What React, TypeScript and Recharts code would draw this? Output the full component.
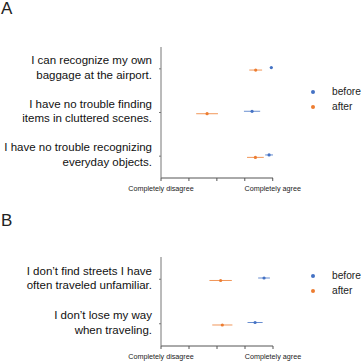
import { ScatterChart, Scatter, XAxis, YAxis, ErrorBar, Legend } from 'recharts';

// Likert scale: 1 = completely disagree ... 5 = completely agree
const xTicks = [1, 2, 3, 4, 5];
const xTickLabels: Record<number, string> = { 1: 'Completely disagree', 5: 'Completely agree' };

// Panel A - object recognition
const questionsA = [
  ['I can recognize my own', 'baggage at the airport.'],
  ['I have no trouble finding', 'items in cluttered scenes.'],
  ['I have no trouble recognizing', 'everyday objects.'],
];
const beforeA = [4.95, 4.26, 4.87];
const beforeErrA = [0.05, 0.29, 0.14];
const afterA = [4.39, 2.65, 4.38];
const afterErrA = [0.23, 0.39, 0.3];

// Panel B - navigation
const questionsB = [
  ['I don\u2019t find streets I have', 'often traveled unfamiliar.'],
  ['I don\u2019t lose my way', 'when traveling.'],
];
const beforeB = [4.68, 4.36];
const beforeErrB = [0.21, 0.27];
const afterB = [3.13, 3.19];
const afterErrB = [0.4, 0.36];

const BLUE = '#4472c4';
const ORANGE = '#ed7d31';
const FONT = '"Liberation Sans", Arial, Helvetica, sans-serif';
const DODGE = 0.028;

const build = (vals: number[], errs: number[], shift: number) =>
  vals.map((v, i) => ({ x: v, y: i + shift, err: errs[i] }));

function QuestionTick(props: any) {
  const { x, y, payload, lines } = props;
  const txt: string[] = lines[payload.value] || [];
  const lh = 14.5;
  const y0 = y - ((txt.length - 1) * lh) / 2 - 1.5;
  return (
    <text x={x} y={y0} textAnchor="end" fontSize={11.5} fill="#111" fontFamily={FONT}>
      {txt.map((t, i) => (
        <tspan key={i} x={x} y={y0 + i * lh} dy="0.35em">{t}</tspan>
      ))}
    </text>
  );
}

function ScaleTick(props: any) {
  const { x, y, payload } = props;
  const label = xTickLabels[payload.value];
  if (!label) return null;
  return (
    <text x={x} y={y} dy="0.71em" textAnchor="middle" fontSize={7.2} fill="#222" fontFamily={FONT}>
      {label}
    </text>
  );
}

function LegendBox() {
  const items = [
    { name: 'before', color: BLUE },
    { name: 'after', color: ORANGE },
  ];
  return (
    <div style={{ fontFamily: FONT, fontSize: 10.2, color: '#222' }}>
      {items.map((it) => (
        <div key={it.name} style={{ display: 'flex', alignItems: 'center', height: 15 }}>
          <span style={{ width: 4, height: 4, borderRadius: 2, background: it.color, marginLeft: 3, marginRight: 17 }} />
          <span>{it.name}</span>
        </div>
      ))}
    </div>
  );
}

const dot = (color: string) => (p: any) => <circle cx={p.cx} cy={p.cy} r={1.6} fill={color} />;

function Panel({ questions, before, beforeErr, after, afterErr, height, top, bottom, legendTop }: any) {
  const n = questions.length;
  const bData = build(before, beforeErr, -DODGE);
  const aData = build(after, afterErr, DODGE);
  return (
    <ScatterChart width={362} height={height} margin={{ top, right: 89, bottom, left: 0 }}>
      <XAxis
        type="number"
        dataKey="x"
        domain={[1, 5]}
        ticks={xTicks}
        interval={0}
        tick={<ScaleTick />}
        tickSize={3}
        tickMargin={5}
        stroke="#555"
        height={12}
      />
      <YAxis
        type="number"
        dataKey="y"
        domain={[-0.5, n - 0.5]}
        ticks={questions.map((_: any, i: number) => i)}
        reversed
        width={161}
        tickSize={2}
        tickMargin={7}
        stroke="#777"
        tick={<QuestionTick lines={questions} />}
      />
      <Legend
        verticalAlign="top"
        content={() => <LegendBox />}
        wrapperStyle={{ left: 308, top: legendTop, width: 54 }}
      />
      <Scatter name="before" data={bData} fill={BLUE} shape={dot(BLUE)} isAnimationActive={false}>
        <ErrorBar dataKey="err" direction="x" width={0} stroke={BLUE} strokeOpacity={0.8} strokeWidth={1} />
      </Scatter>
      <Scatter name="after" data={aData} fill={ORANGE} shape={dot(ORANGE)} isAnimationActive={false}>
        <ErrorBar dataKey="err" direction="x" width={0} stroke={ORANGE} strokeOpacity={0.8} strokeWidth={1} />
      </Scatter>
    </ScatterChart>
  );
}

export default function App() {
  const letter = { position: 'absolute' as const, left: 1, fontFamily: FONT, fontSize: 17, color: '#222', lineHeight: '17px' };
  return (
    <div style={{ position: 'absolute', left: 0, top: 0, width: 362, height: 362, background: '#fff', overflow: 'hidden' }}>
      <div style={{ ...letter, top: 0 }}>A</div>
      <div style={{ ...letter, top: 212 }}>B</div>
      <div style={{ position: 'absolute', left: 0, top: 0 }}>
        <Panel
          questions={questionsA}
          before={beforeA}
          beforeErr={beforeErrA}
          after={afterA}
          afterErr={afterErrA}
          height={200}
          top={17}
          bottom={10}
          legendTop={84}
        />
      </div>
      <div style={{ position: 'absolute', left: 0, top: 200 }}>
        <Panel
          questions={questionsB}
          before={beforeB}
          beforeErr={beforeErrB}
          after={afterB}
          afterErr={afterErrB}
          height={162}
          top={27}
          bottom={4}
          legendTop={68}
        />
      </div>
    </div>
  );
}
